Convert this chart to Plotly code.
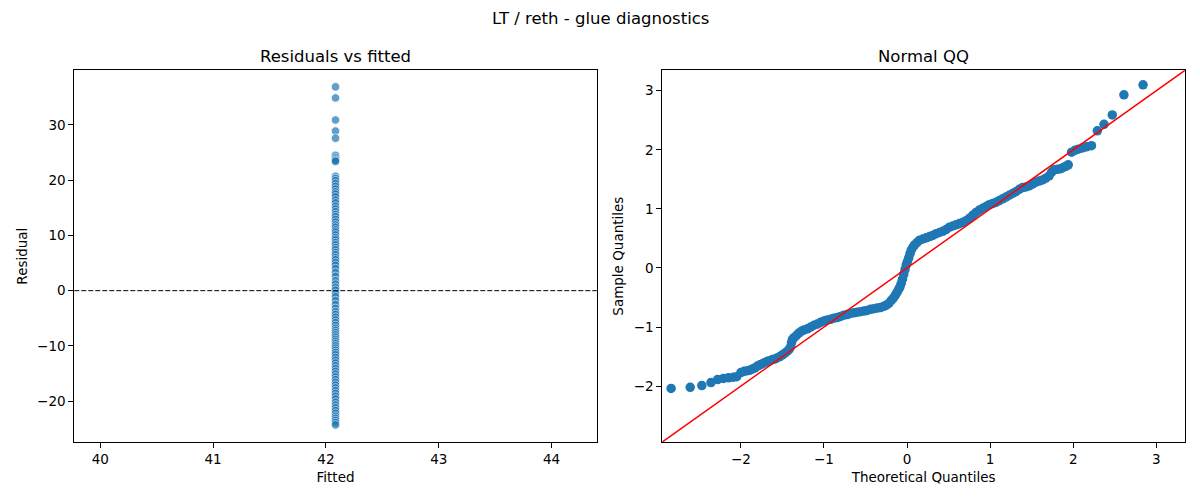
import plotly.graph_objects as go

# --------------------------------------------------------------------------- #
# Data
# --------------------------------------------------------------------------- #

# residuals vs fitted: the model predicts one constant value
residuals = [
    36.9, 34.9, 30.9, 28.9, 27.6, 24.5, 24.1, 23.8, 23.6, 23.4,
    20.7, 20.3, 19.9, 19.4, 18.9, 18.4, 17.9, 17.5, 17.0, 16.4,
    15.9, 15.3, 14.8, 14.3, 13.8, 13.4, 12.9, 12.4, 11.9, 11.5,
    11.0, 10.6, 10.1, 9.6, 9.2, 8.7, 8.3, 7.8, 7.4, 6.9,
    6.5, 6.0, 5.6, 5.1, 4.6, 4.0, 3.3, 2.6, 1.8, 1.2,
    0.6, 0.1, -0.5, -1.1, -1.8, -2.5, -3.2, -3.8, -4.3, -4.8,
    -5.3, -5.8, -6.3, -6.8, -7.2, -7.6, -8.0, -8.4, -8.8, -9.2,
    -9.6, -10.0, -10.4, -10.8, -11.2, -11.6, -12.1, -12.6, -13.1, -13.6,
    -14.1, -14.6, -15.1, -15.6, -16.1, -16.6, -17.1, -17.6, -18.1, -18.6,
    -19.1, -19.6, -20.2, -20.7, -21.2, -21.7, -22.2, -22.7, -23.1, -23.5,
    -23.9, -24.3,
]
fitted = [42.085] * len(residuals)

# normal QQ of the standardised residuals
qq_theoretical = [
    -2.84, -2.61, -2.47, -2.36, -2.28, -2.21, -2.15, -2.09, -2.05, -2.00,
    -1.96, -1.92, -1.89, -1.86, -1.83, -1.80, -1.77, -1.74, -1.71, -1.68,
    -1.65, -1.62, -1.59, -1.56, -1.53, -1.50, -1.47, -1.44, -1.42, -1.40,
    -1.39, -1.38, -1.36, -1.33, -1.30, -1.27, -1.24, -1.20, -1.16, -1.12,
    -1.08, -1.04, -1.00, -0.96, -0.92, -0.88, -0.84, -0.80, -0.76, -0.72,
    -0.68, -0.64, -0.60, -0.56, -0.52, -0.48, -0.44, -0.40, -0.36, -0.32,
    -0.28, -0.25, -0.22, -0.19, -0.165, -0.14, -0.12, -0.10, -0.085, -0.07,
    -0.055, -0.04, -0.025, -0.01, 0.005, 0.02, 0.035, 0.05, 0.07, 0.09,
    0.12, 0.15, 0.19, 0.23, 0.27, 0.31, 0.35, 0.39, 0.43, 0.47,
    0.51, 0.55, 0.59, 0.63, 0.67, 0.71, 0.75, 0.79, 0.83, 0.87,
    0.91, 0.95, 0.99, 1.03, 1.07, 1.11, 1.15, 1.19, 1.23, 1.27,
    1.31, 1.35, 1.39, 1.43, 1.47, 1.51, 1.55, 1.59, 1.63, 1.67,
    1.71, 1.74, 1.77, 1.81, 1.85, 1.88, 1.91, 1.94, 1.98, 2.02,
    2.06, 2.11, 2.16, 2.22, 2.29, 2.37, 2.47, 2.61, 2.84,
]
qq_sample = [
    -2.04, -2.02, -1.99, -1.94, -1.89, -1.87, -1.86, -1.85, -1.84, -1.77,
    -1.75, -1.74, -1.73, -1.71, -1.69, -1.66, -1.64, -1.62, -1.60, -1.58,
    -1.57, -1.55, -1.54, -1.52, -1.50, -1.47, -1.44, -1.41, -1.38, -1.33,
    -1.26, -1.21, -1.18, -1.14, -1.10, -1.07, -1.05, -1.03, -1.00, -0.97,
    -0.95, -0.92, -0.90, -0.88, -0.87, -0.85, -0.84, -0.82, -0.80, -0.79,
    -0.77, -0.76, -0.75, -0.74, -0.73, -0.72, -0.70, -0.69, -0.68, -0.67,
    -0.65, -0.63, -0.60, -0.55, -0.51, -0.46, -0.41, -0.36, -0.32, -0.26,
    -0.19, -0.11, -0.03, 0.05, 0.11, 0.17, 0.24, 0.30, 0.35, 0.39,
    0.43, 0.47, 0.49, 0.51, 0.53, 0.55, 0.58, 0.60, 0.62, 0.65,
    0.69, 0.71, 0.73, 0.75, 0.77, 0.80, 0.84, 0.89, 0.94, 0.98,
    1.01, 1.04, 1.07, 1.09, 1.11, 1.14, 1.17, 1.20, 1.23, 1.26,
    1.29, 1.33, 1.36, 1.37, 1.39, 1.42, 1.45, 1.47, 1.49, 1.52,
    1.56, 1.62, 1.66, 1.67, 1.68, 1.70, 1.72, 1.745, 1.96, 1.99,
    2.01, 2.03, 2.05, 2.07, 2.32, 2.43, 2.59, 2.93, 3.10,
]

# 45-degree reference line, drawn corner to corner of the QQ axes
qq_line = [-2.946, 3.345]

BLUE = "#1f77b4"
FONT = "DejaVu Sans"

# --------------------------------------------------------------------------- #
# Figure
# --------------------------------------------------------------------------- #

fig = go.Figure()

fig.add_trace(go.Scatter(
    x=fitted, y=residuals, mode="markers",
    marker=dict(size=8.5, color=BLUE, opacity=0.7,
                line=dict(color="white", width=0.8)),
    xaxis="x", yaxis="y", showlegend=False,
))
fig.add_shape(type="line", xref="x domain", yref="y", x0=0, x1=1, y0=0, y1=0,
              line=dict(color="black", width=1, dash="5px,2px"))

fig.add_trace(go.Scatter(
    x=qq_theoretical, y=qq_sample, mode="markers",
    marker=dict(size=9.5, color=BLUE),
    xaxis="x2", yaxis="y2", showlegend=False,
))
fig.add_trace(go.Scatter(
    x=qq_line, y=qq_line, mode="lines",
    line=dict(color="red", width=1.5),
    xaxis="x2", yaxis="y2", showlegend=False,
))

axis_style = dict(
    showline=True, mirror=True, linecolor="black", linewidth=1,
    ticks="outside", ticklen=5, tickwidth=1, tickcolor="black",
    showgrid=False, zeroline=False,
    tickfont=dict(family=FONT, size=13.5, color="black"),
    title_font=dict(family=FONT, size=13.5, color="black"),
)

fig.update_layout(
    width=1200, height=500,
    paper_bgcolor="white", plot_bgcolor="white",
    margin=dict(l=0, r=0, t=0, b=0),
    font=dict(family=FONT, color="black"),
    xaxis=dict(axis_style, domain=[0.0619, 0.4973], range=[39.77, 44.40],
               dtick=1, title=dict(text="Fitted", standoff=6)),
    yaxis=dict(axis_style, domain=[0.116, 0.8594], range=[-27.4, 39.9],
               dtick=10, title=dict(text="Residual", standoff=6)),
    xaxis2=dict(axis_style, anchor="y2", domain=[0.5519, 0.9875],
                range=qq_line, dtick=1,
                title=dict(text="Theoretical Quantiles", standoff=6)),
    yaxis2=dict(axis_style, anchor="x2", domain=[0.116, 0.8594],
                range=qq_line, dtick=1,
                title=dict(text="Sample Quantiles", standoff=6)),
    annotations=[
        dict(text="LT / reth - glue diagnostics", x=0.5, y=0.986,
             xref="paper", yref="paper", xanchor="center", yanchor="top",
             showarrow=False, font=dict(family=FONT, size=16.5)),
        dict(text="Residuals vs fitted", x=(0.0619 + 0.4973) / 2, y=0.864,
             xref="paper", yref="paper", xanchor="center", yanchor="bottom",
             showarrow=False, font=dict(family=FONT, size=16.5)),
        dict(text="Normal QQ", x=(0.5519 + 0.9875) / 2, y=0.864,
             xref="paper", yref="paper", xanchor="center", yanchor="bottom",
             showarrow=False, font=dict(family=FONT, size=16.5)),
    ],
)

fig.write_html("out.html", config={"displayModeBar": False},
               post_script="document.body.style.margin = '0';")
